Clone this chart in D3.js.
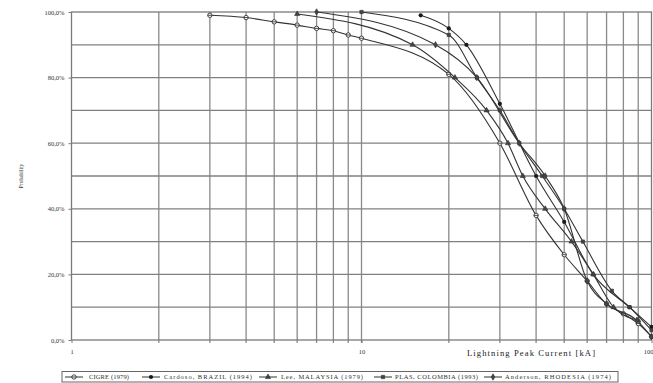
<!DOCTYPE html>
<html>
<head>
<meta charset="utf-8">
<script src="https://cdn.jsdelivr.net/npm/d3@7"></script>
<style>
  body { margin: 0; background: #fff; }
  svg { display: block; font-family: "Liberation Serif", "DejaVu Serif", serif; }
</style>
</head>
<body>
<svg id="chart" width="653" height="383"></svg>
<script>
// series names as in the legend
const seriesNames = ['CIGRE (1979)', 'Cardoso, BRAZIL (1994)', 'Lee, MALAYSIA (1979)', 'PLAS, COLOMBIA (1993)', 'Anderson, RHODESIA (1974)'];

// peak current [kA] and probability [%]
const cigreX = [3, 4, 5, 6, 7, 8, 9, 10, 20, 30, 40, 50, 60, 70, 80, 90, 100];
const cigreY = [99, 98.3, 97, 96, 95, 94.3, 93, 92, 81, 60, 38, 26, 18, 11, 8, 5, 1];
const cardosoX = [16, 20, 23, 30, 40, 50, 63, 84, 100];
const cardosoY = [99, 95, 90, 72, 50, 36, 20, 10, 4];
const leeX = [6, 15, 21, 27, 32, 36, 43, 53, 63, 74, 90];
const leeY = [99.4, 90, 80, 70, 60, 50, 40, 30, 20, 10, 6];
const plasX = [10, 20, 25, 30, 35, 42, 50, 58, 73, 84, 100];
const plasY = [100, 93, 80, 70, 60, 50, 40, 30, 15, 10, 3];
const andersonX = [7, 18, 25, 35, 43, 50, 60, 70, 89, 100];
const andersonY = [100, 90, 80, 60, 50, 40, 18, 11, 6, 1];

// axis ticks
const xGridTicks = [2, 3, 4, 5, 6, 7, 8, 9, 10, 20, 30, 40, 50, 60, 70, 80, 90];
const xLabelTicks = [1, 10, 100];
const yGridTicks = [10, 20, 30, 40, 50, 60, 70, 80, 90];
const yLabelTicks = [0, 20, 40, 60, 80, 100];

const allX = [cigreX, cardosoX, leeX, plasX, andersonX];
const allY = [cigreY, cardosoY, leeY, plasY, andersonY];
const markerTypes = ['ocircle', 'circle', 'triangle', 'square', 'diamond'];

const plotLeft = 71.5, plotRight = 651.5, plotTop = 12, plotBottom = 340;

const svg = d3.select('#chart');
const x = d3.scaleLog().domain([1, 100]).range([plotLeft, plotRight]);
const y = d3.scaleLinear().domain([0, 100]).range([plotBottom, plotTop]);

// grid
svg.append('g')
  .selectAll('line.vg')
  .data(xGridTicks)
  .enter()
  .append('line')
  .attr('x1', d => x(d)).attr('x2', d => x(d))
  .attr('y1', plotTop).attr('y2', plotBottom + 3)
  .attr('stroke', '#8a8a8a')
  .attr('stroke-width', 1.3);

svg.append('g')
  .selectAll('line.hg')
  .data(yGridTicks)
  .enter()
  .append('line')
  .attr('x1', plotLeft).attr('x2', plotRight)
  .attr('y1', d => y(d)).attr('y2', d => y(d))
  .attr('stroke', '#808080')
  .attr('stroke-width', 1.3);

// frame
svg.append('rect')
  .attr('x', plotLeft).attr('y', plotTop)
  .attr('width', plotRight - plotLeft).attr('height', plotBottom - plotTop)
  .attr('fill', 'none')
  .attr('stroke', '#7a7a7a')
  .attr('stroke-width', 1.3);

// axes
const xAxis = d3.axisBottom(x)
  .tickValues(xLabelTicks)
  .tickFormat(d3.format('d'))
  .tickSize(3)
  .tickPadding(6);
const gx = svg.append('g').attr('transform', 'translate(0,' + plotBottom + ')').call(xAxis);
gx.select('.domain').remove();
gx.selectAll('line').attr('stroke', '#7a7a7a');
gx.selectAll('text').attr('font-size', 6.5).attr('font-family', 'Liberation Serif').attr('fill', '#333')
  .attr('text-anchor', d => d === 100 ? 'end' : 'middle')
  .attr('dx', d => d === 100 ? 1.5 : 0);

const yAxis = d3.axisLeft(y)
  .tickValues(yLabelTicks)
  .tickFormat(d => d.toFixed(1).replace('.', ',') + '%')
  .tickSize(3)
  .tickPadding(4);
const gy = svg.append('g').attr('transform', 'translate(' + plotLeft + ',0)').call(yAxis);
gy.select('.domain').remove();
gy.selectAll('line').attr('stroke', '#7a7a7a');
gy.selectAll('text').attr('font-size', 6.5).attr('font-family', 'Liberation Serif').attr('fill', '#333');

// axis titles
svg.append('text')
  .attr('x', 467).attr('y', 356)
  .attr('font-size', 8.6)
  .attr('fill', '#222')
  .attr('textLength', 128)
  .attr('lengthAdjust', 'spacing')
  .text('Lightning Peak Current   [kA]');

svg.append('text')
  .attr('transform', 'translate(23,176) rotate(-90)')
  .attr('text-anchor', 'middle')
  .attr('font-size', 5.5)
  .attr('fill', '#333')
  .text('Probability');

// marker drawing
function drawMarker(g, type, cx, cy) {
  if (type === 'ocircle') {
    g.append('circle').attr('cx', cx).attr('cy', cy).attr('r', 2.2)
      .attr('fill', '#fff').attr('stroke', '#333').attr('stroke-width', 0.9);
    g.append('line').attr('x1', cx - 2.2).attr('x2', cx + 2.2).attr('y1', cy).attr('y2', cy)
      .attr('stroke', '#333').attr('stroke-width', 0.9);
  } else if (type === 'circle') {
    g.append('circle').attr('cx', cx).attr('cy', cy).attr('r', 2.1).attr('fill', '#1a1a1a');
  } else {
    const sym = type === 'triangle' ? d3.symbolTriangle : type === 'square' ? d3.symbolSquare : d3.symbolDiamond;
    g.append('path')
      .attr('d', d3.symbol().type(sym).size(type === 'square' ? 11 : 12)())
      .attr('transform', 'translate(' + cx + ',' + cy + ')')
      .attr('fill', '#444').attr('stroke', '#333').attr('stroke-width', 0.6);
  }
}

// series lines
const line = d3.line()
  .x(d => x(d[0]))
  .y(d => y(d[1]))
  .curve(d3.curveMonotoneX);

allX.forEach((xs, i) => {
  const pts = xs.map((v, j) => [v, allY[i][j]]);
  const g = svg.append('g');
  g.append('path')
    .datum(pts)
    .attr('d', line)
    .attr('fill', 'none')
    .attr('stroke', '#333')
    .attr('stroke-width', 1.1);
  pts.forEach(p => drawMarker(g, markerTypes[i], x(p[0]), y(p[1])));
});

// legend
const legend = svg.append('g');
legend.append('rect')
  .attr('x', 62).attr('y', 371.5)
  .attr('width', 556).attr('height', 10.5)
  .attr('fill', '#fff')
  .attr('stroke', '#666')
  .attr('stroke-width', 1);

const legendMarkX = [74, 151, 268, 383, 493];
const legendTextX = [89, 164, 281, 395, 505];
const legendTextW = [40, 88, 82, 83, 106];
seriesNames.forEach((name, i) => {
  const cx = legendMarkX[i];
  legend.append('line')
    .attr('x1', cx - 9).attr('x2', cx + 9)
    .attr('y1', 377).attr('y2', 377)
    .attr('stroke', '#333').attr('stroke-width', 1);
  drawMarker(legend, markerTypes[i], cx, 377);
  legend.append('text')
    .attr('x', legendTextX[i]).attr('y', 379.3)
    .attr('font-size', 6.5)
    .attr('fill', '#333')
    .attr('textLength', legendTextW[i])
    .attr('lengthAdjust', 'spacing')
    .text(name);
});
</script>
</body>
</html>
